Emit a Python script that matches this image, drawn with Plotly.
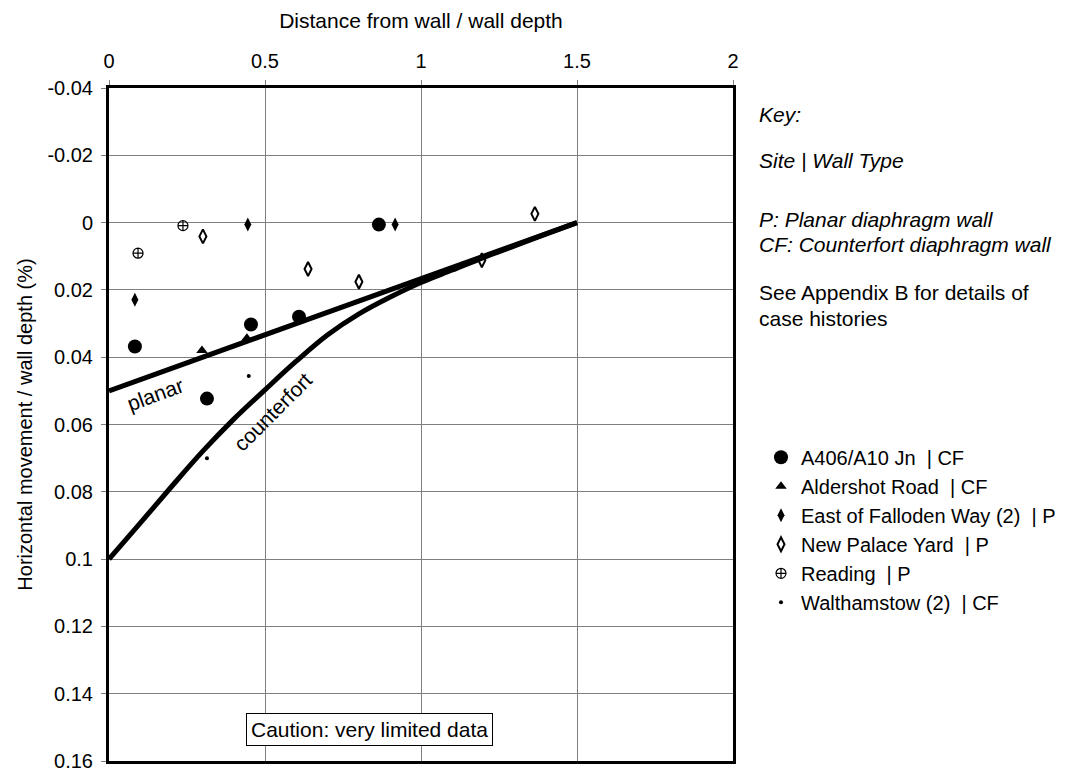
import plotly.graph_objects as go

# ---------------- data ----------------
a406_x = [0.083, 0.455, 0.314, 0.865, 0.609]
a406_y = [0.0368, 0.0303, 0.0523, 0.0006, 0.0280]

alder_x = [0.298, 0.442]
alder_y = [0.0380, 0.0344]

efw_x = [0.445, 0.083, 0.917]
efw_y = [0.0006, 0.0229, 0.0006]

npy_x = [0.301, 0.638, 0.801, 1.195, 1.365]
npy_y = [0.0041, 0.0138, 0.0176, 0.0112, -0.0026]

reading_x = [0.093, 0.237]
reading_y = [0.0091, 0.0009]

waltham_x = [0.448, 0.314]
waltham_y = [0.0456, 0.0700]

planar_x = [0.0, 1.5]
planar_y = [0.05, 0.0]

counter_x = [0.0, 0.1, 0.2, 0.3, 0.4, 0.5, 0.6, 0.7, 0.8, 0.9, 1.0, 1.1, 1.2, 1.3, 1.4, 1.5]
counter_y = [0.1, 0.0893, 0.0785, 0.0680, 0.0584, 0.0497, 0.0412, 0.0334, 0.0272, 0.0222,
             0.0178, 0.0141, 0.0104, 0.0069, 0.0034, 0.0]

x_ticks = [0, 0.5, 1, 1.5, 2]
x_tick_labels = ["0", "0.5", "1", "1.5", "2"]
y_ticks = [-0.04, -0.02, 0, 0.02, 0.04, 0.06, 0.08, 0.1, 0.12, 0.14, 0.16]
y_tick_labels = ["-0.04", "-0.02", "0", "0.02", "0.04", "0.06", "0.08", "0.1", "0.12", "0.14", "0.16"]

FONT = "Liberation Sans, Arial, sans-serif"
FS = 21

fig = go.Figure()

# curves
fig.add_trace(go.Scatter(x=planar_x, y=planar_y, mode="lines",
                         line=dict(color="black", width=5), showlegend=False, hoverinfo="skip"))
fig.add_trace(go.Scatter(x=counter_x, y=counter_y, mode="lines",
                         line=dict(color="black", width=5, shape="spline"), showlegend=False,
                         hoverinfo="skip"))

# points
fig.add_trace(go.Scatter(x=a406_x, y=a406_y, mode="markers", name="A406/A10 Jn  | CF",
                         marker=dict(symbol="circle", size=14, color="black")))
fig.add_trace(go.Scatter(x=alder_x, y=alder_y, mode="markers", name="Aldershot Road  | CF",
                         marker=dict(symbol="triangle-up", size=10, color="black")))
fig.add_trace(go.Scatter(x=efw_x, y=efw_y, mode="markers", name="East of Falloden Way (2)  | P",
                         marker=dict(symbol="diamond-tall", size=10, color="black")))
fig.add_trace(go.Scatter(x=npy_x, y=npy_y, mode="markers", name="New Palace Yard  | P",
                         marker=dict(symbol="diamond-tall-open", size=10, color="black",
                                     line=dict(width=2, color="black"))))
fig.add_trace(go.Scatter(x=reading_x, y=reading_y, mode="markers", name="Reading  | P",
                         marker=dict(symbol="circle-cross-open", size=10, color="black",
                                     line=dict(width=1.2, color="black"))))
fig.add_trace(go.Scatter(x=waltham_x, y=waltham_y, mode="markers", name="Walthamstow (2)  | CF",
                         marker=dict(symbol="circle", size=4, color="black")))

# line labels
fig.add_annotation(x=0.147, y=0.0510, text="planar", showarrow=False, textangle=-20,
                   font=dict(family=FONT, size=FS, color="black"))
fig.add_annotation(x=0.525, y=0.0560, text="counterfort", showarrow=False, textangle=-45,
                   font=dict(family=FONT, size=FS, color="black"))

# caution box
fig.add_annotation(x=0.835, y=0.1505, text="Caution: very limited data", showarrow=False,
                   bordercolor="black", borderwidth=1, borderpad=4, bgcolor="white",
                   font=dict(family=FONT, size=FS, color="black"))

# key text
key_lines = [
    ("<i>Key:</i>", 115),
    ("<i>Site | Wall Type</i>", 162),
    ("<i>P: Planar diaphragm wall</i>", 221),
    ("<i>CF: Counterfort diaphragm wall</i>", 247),
    ("See Appendix B for details of", 296),
    ("case histories", 322),
]
L, R, T, B = 109, 733, 88, 771
W, H = 1078, 784
for txt, py in key_lines:
    fig.add_annotation(xref="paper", yref="paper", x=(757 - L) / (R - L), y=(B - py) / (B - T),
                       xanchor="left", yanchor="middle", text=txt, showarrow=False, align="left",
                       font=dict(family=FONT, size=FS, color="black"))

fig.update_layout(
    width=W, height=H,
    margin=dict(l=L, r=W - R, t=T, b=H - B),
    paper_bgcolor="white", plot_bgcolor="white",
    font=dict(family=FONT, size=FS - 1, color="black"),
    legend=dict(x=(761 - L) / (R - L), y=(B - 443) / (B - T), xanchor="left", yanchor="top",
                bgcolor="rgba(0,0,0,0)", borderwidth=0, font=dict(family=FONT, size=20),
                tracegroupgap=0),
    xaxis=dict(side="top", range=[0, 2], tickvals=x_ticks, ticktext=x_tick_labels,
               showgrid=True, gridcolor="#7f7f7f", gridwidth=1,
               showline=True, linecolor="black", linewidth=3, mirror=True,
               ticks="outside", ticklen=5, tickcolor="#7f7f7f", ticklabelstandoff=4,
               title=dict(text="Distance from wall / wall depth", font=dict(size=FS), standoff=16),
               zeroline=False),
    yaxis=dict(range=[0.16, -0.04], tickvals=y_ticks, ticktext=y_tick_labels,
               showgrid=True, gridcolor="#7f7f7f", gridwidth=1,
               showline=True, linecolor="black", linewidth=3, mirror=True,
               ticks="outside", ticklen=5, tickcolor="#7f7f7f", ticklabelstandoff=4,
               title=dict(text="Horizontal movement / wall depth (%)", font=dict(size=FS - 1), standoff=10),
               zeroline=False),
)

fig.write_html("out.html")
